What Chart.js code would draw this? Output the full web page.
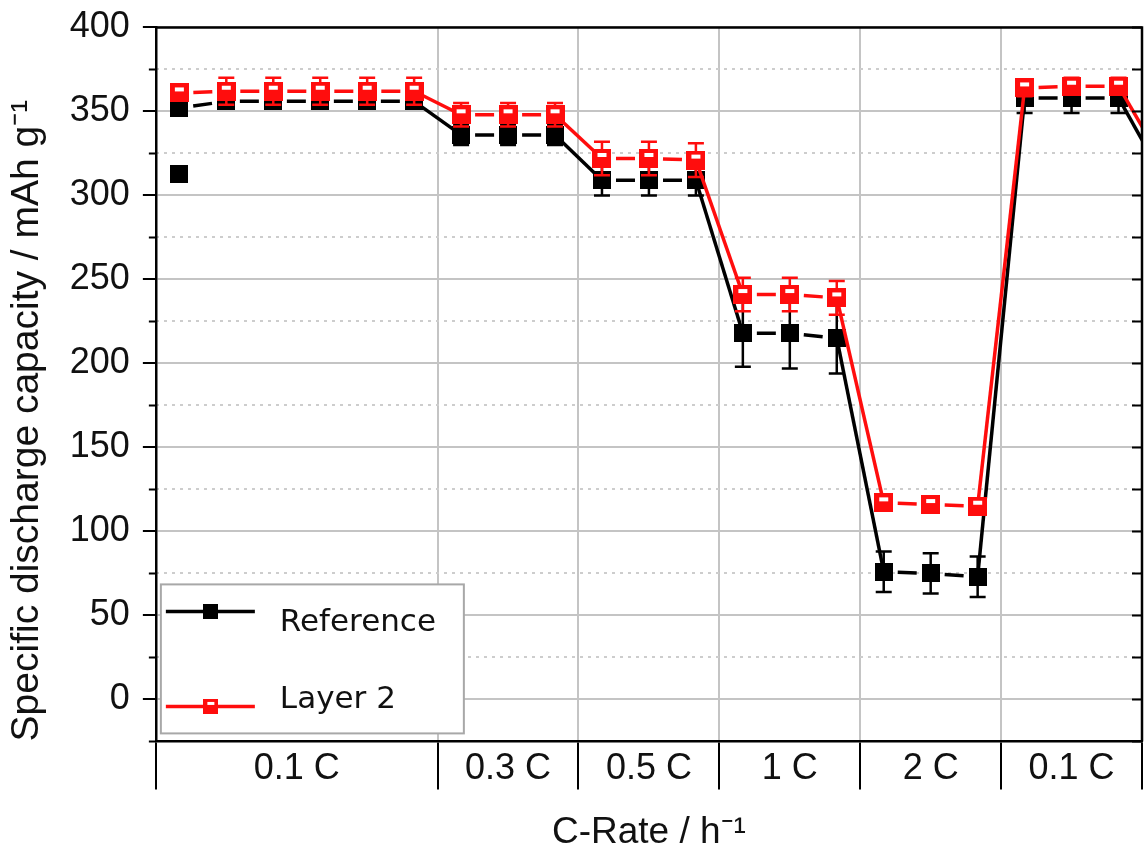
<!DOCTYPE html>
<html>
<head>
<meta charset="utf-8">
<script src="https://cdn.jsdelivr.net/npm/chart.js@4.4.0/dist/chart.umd.min.js"></script>
<style>
	html, body { margin:0; padding:0; background:#fff; }
	canvas { display:block; }
</style>
</head>
<body>
<canvas id="chart-section" width="1147" height="852"></canvas>
<script>

// cycle numbers (cycle 22 lies just outside the frame, only its line shows)
var cycles = [1,2,3,4,5,6, 7,8,9, 10,11,12, 13,14,15, 16,17,18, 19,20,21, 22];

var rateLabels = ["0.1 C", "0.3 C", "0.5 C", "1 C", "2 C", "0.1 C"];
var rateBounds = [0.5, 6.5, 9.5, 12.5, 15.5, 18.5, 21.5];

var reference    = [352,356,356,356,356,356, 336,336,336, 309,309,309, 218,218,215, 76,75,73, 358,358,358, 308];
var referenceErr = [3,3,3,3,3,3, 6,6,6, 9,9,9, 20,21,21, 12,12,12, 9,9,9, 0];

var layer2    = [361,362,362,362,362,362, 348,348,348, 322,322,321, 241,241,239, 117,116,115, 364,365,365, 317];
var layer2Err = [3,8,8,8,8,8, 7,7,7, 10,10,10, 10,10,10, 3,3,3, 5,5,5, 0];

// lone first-cycle point of the reference cell
var outlierCycles = [1];
var outlierValues = [313];

var yTickValues = [-25,0,25,50,75,100,125,150,175,200,225,250,275,300,325,350,375,400];


var groupCenters = [];
for (var i = 0; i < rateBounds.length - 1; i++) {
	groupCenters.push((rateBounds[i] + rateBounds[i+1]) / 2);
}
var xTickValues = rateBounds.concat(groupCenters).sort(function(a,b){ return a-b; });

function groupOf(c){
	for (var i = 0; i < rateBounds.length - 1; i++) {
		if (c > rateBounds[i] && c < rateBounds[i+1]) return i;
	}
	return -1;
}

function toPoints(xs, ys){
	return xs.map(function(x, i){ return {x: x, y: ys[i]}; });
}

function makeMarker(size, fill, hollow){
	var c = document.createElement('canvas');
	c.width = size; c.height = size;
	var g = c.getContext('2d');
	g.fillStyle = fill;
	g.fillRect(0, 0, size, size);
	if (hollow) {
		g.fillStyle = '#fff';
		g.fillRect(Math.round(size*0.27), Math.round(size*0.2), Math.round(size*0.46), Math.round(size*0.2));
	}
	return c;
}

var blackMarker = makeMarker(18, '#000', false);
var redMarker = makeMarker(19, '#ff0d0d', true);
var blackLegend = makeMarker(15, '#000', false);
var redLegend = makeMarker(15, '#ff0d0d', true);

// dashes between markers of the same C-rate, solid lines for the steps
function sameGroup(ctx){
	return groupOf(cycles[ctx.p0DataIndex]) === groupOf(cycles[ctx.p1DataIndex]);
}
var segmentStyle = {
	borderDash: function(ctx){ return sameGroup(ctx) ? [19, 28] : undefined; },
	borderDashOffset: function(ctx){ return sameGroup(ctx) ? 33 : undefined; }
};

var errorBars = {
	id: 'errorBars',
	beforeDatasetDraw: function(chart, args){
		var ds = chart.data.datasets[args.index];
		if (!ds.errors) return;
		var ctx = chart.ctx, xs = chart.scales.x, ys = chart.scales.y, area = chart.chartArea;
		ctx.save();
		ctx.strokeStyle = ds.borderColor;
		ctx.lineWidth = 2.5;
		ds.data.forEach(function(p, i){
			var e = ds.errors[i];
			var px = xs.getPixelForValue(p.x);
			if (!e || px > area.right) return;
			var top = ys.getPixelForValue(p.y + e), bot = ys.getPixelForValue(p.y - e);
			ctx.beginPath();
			ctx.moveTo(px, top); ctx.lineTo(px, bot);
			ctx.moveTo(px - 8, top); ctx.lineTo(px + 8, top);
			ctx.moveTo(px - 8, bot); ctx.lineTo(px + 8, bot);
			ctx.stroke();
		});
		ctx.restore();
	}
};

var frame = {
	id: 'frame',
	afterDraw: function(chart){
		var ctx = chart.ctx, a = chart.chartArea, ys = chart.scales.y;
		ctx.save();
		ctx.strokeStyle = '#000';
		ctx.lineWidth = 2.5;
		ctx.beginPath();
		ctx.moveTo(a.left, a.top); ctx.lineTo(a.right, a.top); ctx.lineTo(a.right, a.bottom);
		ctx.stroke();
		ctx.lineWidth = 2;
		ctx.beginPath();
		yTickValues.forEach(function(v){
			var py = ys.getPixelForValue(v);
			ctx.moveTo(a.right - 10, py); ctx.lineTo(a.right, py);
			if (v % 50 !== 0) { ctx.moveTo(a.left - 7, py); ctx.lineTo(a.left, py); }
		});
		ctx.stroke();
		ctx.restore();
	}
};

var boxLegend = {
	id: 'boxLegend',
	afterDraw: function(chart){
		var ctx = chart.ctx, a = chart.chartArea;
		var x0 = a.left + 5, y1 = a.bottom - 8, x1 = x0 + 303, y0 = y1 - 149;
		ctx.save();
		ctx.fillStyle = '#fff';
		ctx.fillRect(x0, y0, x1 - x0, y1 - y0);
		ctx.strokeStyle = '#a8a8a8';
		ctx.lineWidth = 2;
		ctx.strokeRect(x0, y0, x1 - x0, y1 - y0);
		var rows = [
			{text: 'Reference', color: '#000', marker: blackLegend, y: y0 + 27, base: y0 + 47},
			{text: 'Layer 2', color: '#ff0d0d', marker: redLegend, y: y0 + 122, base: y0 + 124}
		];
		rows.forEach(function(r){
			ctx.strokeStyle = r.color;
			ctx.lineWidth = 3.5;
			ctx.beginPath();
			ctx.moveTo(x0 + 5, r.y); ctx.lineTo(x0 + 94, r.y);
			ctx.stroke();
			ctx.drawImage(r.marker, x0 + 50 - r.marker.width/2, r.y - r.marker.height/2);
			ctx.fillStyle = '#111';
			ctx.font = '31px "DejaVu Sans"';
			ctx.textBaseline = 'alphabetic';
			ctx.fillText(r.text, x0 + 119, r.base);
		});
		ctx.restore();
	}
};

Chart.defaults.font.family = '"Liberation Sans", Arial, sans-serif';
Chart.defaults.color = '#111';

var canvas = document.getElementById('chart-section').getContext('2d');
window.rateChart = new Chart(canvas, {
	type: 'line',
	data: {
		datasets: [
			{
				label: 'Layer 2',
				data: toPoints(cycles, layer2),
				errors: layer2Err,
				borderColor: '#ff0d0d',
				borderWidth: 3.5,
				pointStyle: redMarker,
				pointRadius: 9,
				segment: segmentStyle,
				order: 0
			},
			{
				label: 'Reference',
				data: toPoints(cycles, reference),
				errors: referenceErr,
				borderColor: '#000',
				borderWidth: 3.5,
				pointStyle: blackMarker,
				pointRadius: 9,
				segment: segmentStyle,
				order: 1
			},
			{
				label: 'Reference (cycle 1)',
				data: toPoints(outlierCycles, outlierValues),
				showLine: false,
				borderColor: '#000',
				pointStyle: blackMarker,
				pointRadius: 9,
				order: 2
			}
		]
	},
	options: {
		responsive: false,
		animation: false,
		events: [],
		layout: { autoPadding: false, padding: { left: 4, right: 5, top: 25, bottom: 0 } },
		plugins: {
			legend: { display: false },
			tooltip: { enabled: false }
		},
		scales: {
			x: {
				type: 'linear',
				min: 0.5,
				max: 21.5,
				afterBuildTicks: function(axis){
					axis.ticks = xTickValues.map(function(v){ return {value: v}; });
				},
				ticks: {
					autoSkip: false,
					maxRotation: 0,
					minRotation: 0,
					padding: -42,
					font: { size: 36 },
					callback: function(value){
						var i = groupCenters.indexOf(value);
						return i >= 0 ? rateLabels[i] : '';
					}
				},
				grid: {
					lineWidth: 2,
					tickLength: 48,
					tickWidth: 2,
					color: function(ctx){ return rateBounds.indexOf(ctx.tick.value) >= 0 ? '#c4c4c4' : 'rgba(0,0,0,0)'; },
					tickColor: function(ctx){ return rateBounds.indexOf(ctx.tick.value) >= 0 ? '#000' : 'rgba(0,0,0,0)'; }
				},
				border: { color: '#000', width: 2.5 },
				title: {
					display: true,
					text: 'C-Rate / h⁻¹',
					font: { size: 37 },
					padding: { top: 62, bottom: -3 }
				}
			},
			y: {
				min: -25,
				max: 400,
				afterBuildTicks: function(axis){
					axis.ticks = yTickValues.map(function(v){ return {value: v}; });
				},
				ticks: {
					autoSkip: false,
					padding: 13,
					font: { size: 36, lineHeight: 0.8 },
					callback: function(value){ return value % 50 === 0 ? String(value) : ''; }
				},
				grid: {
					lineWidth: 2,
					tickLength: 13,
					tickWidth: 2,
					color: function(ctx){ return ctx.tick.value % 50 === 0 ? '#c4c4c4' : 'rgba(0,0,0,0)'; },
					tickColor: function(ctx){ return ctx.tick.value % 50 === 0 ? '#000' : 'rgba(0,0,0,0)'; }
				},
				border: { color: '#000', width: 2.5 },
				title: {
					display: true,
					text: 'Specific discharge capacity / mAh g⁻¹',
					align: 'start',
					font: { size: 39 },
					padding: { top: 0, bottom: 6 }
				}
			},
			yMinor: {
				type: 'linear',
				position: 'left',
				min: -25,
				max: 400,
				afterBuildTicks: function(axis){
					axis.ticks = yTickValues.map(function(v){ return {value: v}; });
				},
				ticks: { display: false, autoSkip: false },
				grid: {
					drawTicks: false,
					lineWidth: 2,
					color: function(ctx){ return ctx.tick.value % 50 !== 0 ? '#cdcdcd' : 'rgba(0,0,0,0)'; }
				},
				border: { display: false, dash: [3, 5] }
			}
		}
	},
	plugins: [errorBars, frame, boxLegend]
});

</script>
</body>
</html>
